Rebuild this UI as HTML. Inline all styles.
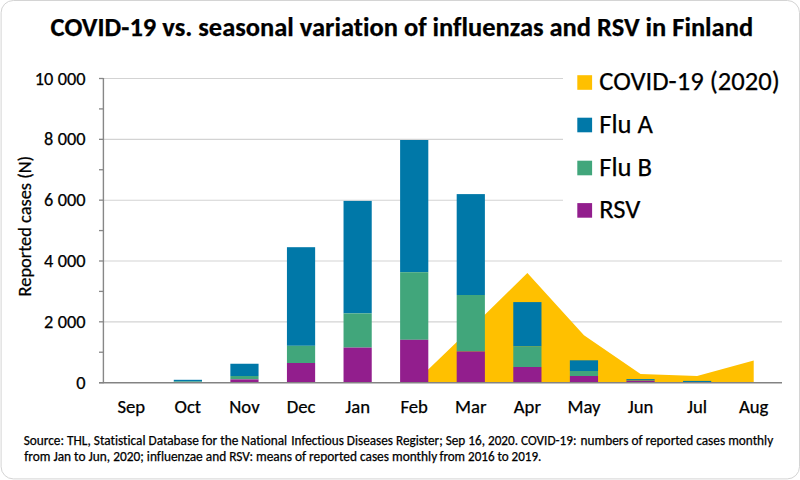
<!DOCTYPE html><html><head><meta charset="utf-8"><style>html,body{margin:0;padding:0;background:#fff;}svg{display:block;}text{font-family:"Carlito", "Liberation Sans", sans-serif;fill:#000;stroke:#000;stroke-width:0.25px;font-variant-ligatures:none;font-feature-settings:"liga" 0,"clig" 0;}</style></head><body>
<svg width="800" height="480" viewBox="0 0 800 480">
<rect x="0" y="0" width="800" height="480" fill="#fff"/>
<path d="M13.30 0.50 H787.30 A12.20 12.20 0 0 1 799.50 12.70 V466.70 A12.20 12.20 0 0 1 787.30 478.90 H13.30 A12.20 12.20 0 0 1 1.10 466.70 V12.70 A12.20 12.20 0 0 1 13.30 0.50 Z" fill="#fff" stroke="#d4d4d4" stroke-width="1"/>
<text x="50.6" y="35.6" font-size="26.5" font-weight="bold" textLength="702.5" lengthAdjust="spacingAndGlyphs">COVID-19 vs. seasonal variation of influenzas and RSV in Finland</text>
<line x1="103.0" y1="78.5" x2="563.0" y2="78.5" stroke="#d3d3d3" stroke-width="1.15"/>
<line x1="103.0" y1="139.3" x2="563.0" y2="139.3" stroke="#d3d3d3" stroke-width="1.15"/>
<line x1="103.0" y1="200.2" x2="563.0" y2="200.2" stroke="#d3d3d3" stroke-width="1.15"/>
<line x1="103.0" y1="261.0" x2="782.0" y2="261.0" stroke="#d3d3d3" stroke-width="1.15"/>
<line x1="103.0" y1="321.8" x2="782.0" y2="321.8" stroke="#d3d3d3" stroke-width="1.15"/>
<polygon fill="#FFC000" points="357.62,383.00 357.62,383.00 414.21,383.00 470.79,328.60 527.38,272.90 583.96,335.25 640.54,374.00 697.12,376.00 753.71,360.40 753.71,383.00"/>
<rect x="173.78" y="379.80" width="28.20" height="1.70" fill="#0078A8"/>
<rect x="173.78" y="381.50" width="28.20" height="1.00" fill="#41A67B"/>
<rect x="173.78" y="382.50" width="28.20" height="0.50" fill="#921E8D"/>
<rect x="230.36" y="363.75" width="28.20" height="12.25" fill="#0078A8"/>
<rect x="230.36" y="376.00" width="28.20" height="3.40" fill="#41A67B"/>
<rect x="230.36" y="379.40" width="28.20" height="3.60" fill="#921E8D"/>
<rect x="286.94" y="247.20" width="28.20" height="98.60" fill="#0078A8"/>
<rect x="286.94" y="345.80" width="28.20" height="17.20" fill="#41A67B"/>
<rect x="286.94" y="363.00" width="28.20" height="20.00" fill="#921E8D"/>
<rect x="343.53" y="200.90" width="28.20" height="112.50" fill="#0078A8"/>
<rect x="343.53" y="313.40" width="28.20" height="34.20" fill="#41A67B"/>
<rect x="343.53" y="347.60" width="28.20" height="35.40" fill="#921E8D"/>
<rect x="400.11" y="140.00" width="28.20" height="132.20" fill="#0078A8"/>
<rect x="400.11" y="272.20" width="28.20" height="67.60" fill="#41A67B"/>
<rect x="400.11" y="339.80" width="28.20" height="43.20" fill="#921E8D"/>
<rect x="456.69" y="194.10" width="28.20" height="100.90" fill="#0078A8"/>
<rect x="456.69" y="295.00" width="28.20" height="56.50" fill="#41A67B"/>
<rect x="456.69" y="351.50" width="28.20" height="31.50" fill="#921E8D"/>
<rect x="513.28" y="302.10" width="28.20" height="44.30" fill="#0078A8"/>
<rect x="513.28" y="346.40" width="28.20" height="20.60" fill="#41A67B"/>
<rect x="513.28" y="367.00" width="28.20" height="16.00" fill="#921E8D"/>
<rect x="569.86" y="360.30" width="28.20" height="10.70" fill="#0078A8"/>
<rect x="569.86" y="371.00" width="28.20" height="5.00" fill="#41A67B"/>
<rect x="569.86" y="376.00" width="28.20" height="7.00" fill="#921E8D"/>
<rect x="626.44" y="379.10" width="28.20" height="1.30" fill="#0078A8"/>
<rect x="626.44" y="380.40" width="28.20" height="0.40" fill="#41A67B"/>
<rect x="626.44" y="380.80" width="28.20" height="2.20" fill="#921E8D"/>
<rect x="683.03" y="380.90" width="28.20" height="1.10" fill="#0078A8"/>
<rect x="683.03" y="382.00" width="28.20" height="0.40" fill="#41A67B"/>
<rect x="683.03" y="382.40" width="28.20" height="0.60" fill="#921E8D"/>
<line x1="103.4" y1="77.90" x2="103.4" y2="383.30" stroke="#878787" stroke-width="1.4"/>
<line x1="99" y1="382.65" x2="103.4" y2="382.65" stroke="#878787" stroke-width="1.3"/>
<line x1="99" y1="352.23" x2="103.4" y2="352.23" stroke="#878787" stroke-width="1.3"/>
<line x1="99" y1="321.82" x2="103.4" y2="321.82" stroke="#878787" stroke-width="1.3"/>
<line x1="99" y1="291.40" x2="103.4" y2="291.40" stroke="#878787" stroke-width="1.3"/>
<line x1="99" y1="260.99" x2="103.4" y2="260.99" stroke="#878787" stroke-width="1.3"/>
<line x1="99" y1="230.57" x2="103.4" y2="230.57" stroke="#878787" stroke-width="1.3"/>
<line x1="99" y1="200.16" x2="103.4" y2="200.16" stroke="#878787" stroke-width="1.3"/>
<line x1="99" y1="169.74" x2="103.4" y2="169.74" stroke="#878787" stroke-width="1.3"/>
<line x1="99" y1="139.33" x2="103.4" y2="139.33" stroke="#878787" stroke-width="1.3"/>
<line x1="99" y1="108.91" x2="103.4" y2="108.91" stroke="#878787" stroke-width="1.3"/>
<line x1="99" y1="78.50" x2="103.4" y2="78.50" stroke="#878787" stroke-width="1.3"/>
<line x1="99" y1="382.70" x2="782.0" y2="382.70" stroke="#838383" stroke-width="1.4"/>
<text x="85.6" y="388.75" font-size="18.3" text-anchor="end" word-spacing="0.3" textLength="9.27" lengthAdjust="spacingAndGlyphs">0</text>
<text x="85.6" y="327.92" font-size="18.3" text-anchor="end" word-spacing="0.3" textLength="41.50" lengthAdjust="spacingAndGlyphs">2 000</text>
<text x="85.6" y="267.09" font-size="18.3" text-anchor="end" word-spacing="0.3" textLength="41.50" lengthAdjust="spacingAndGlyphs">4 000</text>
<text x="85.6" y="206.26" font-size="18.3" text-anchor="end" word-spacing="0.3" textLength="41.50" lengthAdjust="spacingAndGlyphs">6 000</text>
<text x="85.6" y="145.43" font-size="18.3" text-anchor="end" word-spacing="0.3" textLength="41.50" lengthAdjust="spacingAndGlyphs">8 000</text>
<text x="85.6" y="84.60" font-size="18.3" text-anchor="end" word-spacing="0.3" textLength="50.77" lengthAdjust="spacingAndGlyphs">10 000</text>
<text transform="translate(31.2,296.4) rotate(-90)" font-size="18.7" textLength="140.6" lengthAdjust="spacingAndGlyphs">Reported cases (N)</text>
<text x="131.29" y="412.5" font-size="18.7" text-anchor="middle" textLength="27.70" lengthAdjust="spacingAndGlyphs">Sep</text>
<text x="187.88" y="412.5" font-size="18.7" text-anchor="middle" textLength="26.55" lengthAdjust="spacingAndGlyphs">Oct</text>
<text x="244.46" y="412.5" font-size="18.7" text-anchor="middle" textLength="30.28" lengthAdjust="spacingAndGlyphs">Nov</text>
<text x="301.04" y="412.5" font-size="18.7" text-anchor="middle" textLength="28.70" lengthAdjust="spacingAndGlyphs">Dec</text>
<text x="357.62" y="412.5" font-size="18.7" text-anchor="middle" textLength="24.73" lengthAdjust="spacingAndGlyphs">Jan</text>
<text x="414.21" y="412.5" font-size="18.7" text-anchor="middle" textLength="27.44" lengthAdjust="spacingAndGlyphs">Feb</text>
<text x="470.79" y="412.5" font-size="18.7" text-anchor="middle" textLength="31.45" lengthAdjust="spacingAndGlyphs">Mar</text>
<text x="527.38" y="412.5" font-size="18.7" text-anchor="middle" textLength="27.16" lengthAdjust="spacingAndGlyphs">Apr</text>
<text x="583.96" y="412.5" font-size="18.7" text-anchor="middle" textLength="33.05" lengthAdjust="spacingAndGlyphs">May</text>
<text x="640.54" y="412.5" font-size="18.7" text-anchor="middle" textLength="25.61" lengthAdjust="spacingAndGlyphs">Jun</text>
<text x="697.12" y="412.5" font-size="18.7" text-anchor="middle" textLength="20.08" lengthAdjust="spacingAndGlyphs">Jul</text>
<text x="753.71" y="412.5" font-size="18.7" text-anchor="middle" textLength="29.44" lengthAdjust="spacingAndGlyphs">Aug</text>
<rect x="577.3" y="75.2" width="14.8" height="14.6" fill="#FFC000"/>
<text x="599.2" y="90.0" font-size="26.6" textLength="180.55" lengthAdjust="spacingAndGlyphs">COVID-19 (2020)</text>
<rect x="577.3" y="117.7" width="14.8" height="14.6" fill="#0078A8"/>
<text x="599.2" y="132.5" font-size="26.6" textLength="53.70" lengthAdjust="spacingAndGlyphs">Flu A</text>
<rect x="577.3" y="160.7" width="14.8" height="14.6" fill="#41A67B"/>
<text x="599.2" y="175.5" font-size="26.6" textLength="52.78" lengthAdjust="spacingAndGlyphs">Flu B</text>
<rect x="577.3" y="203.1" width="14.8" height="14.6" fill="#921E8D"/>
<text x="599.2" y="217.9" font-size="26.6" textLength="41.22" lengthAdjust="spacingAndGlyphs">RSV</text>
<text x="23.7" y="445" font-size="13.3" textLength="263.4" lengthAdjust="spacingAndGlyphs">Source: THL, Statistical Database for the National</text>
<text x="291.3" y="445" font-size="13.3" textLength="285.2" lengthAdjust="spacingAndGlyphs">Infectious Diseases Register; Sep 16, 2020. COVID-19:</text>
<text x="580.6" y="445" font-size="13.3" textLength="192.6" lengthAdjust="spacingAndGlyphs">numbers of reported cases monthly</text>
<text x="24.2" y="461" font-size="13.3" textLength="413" lengthAdjust="spacingAndGlyphs">from Jan to Jun, 2020; influenzae and RSV: means of reported cases monthly</text>
<text x="439.4" y="461" font-size="13.3" textLength="102.0" lengthAdjust="spacingAndGlyphs">from 2016 to 2019.</text>
</svg></body></html>
